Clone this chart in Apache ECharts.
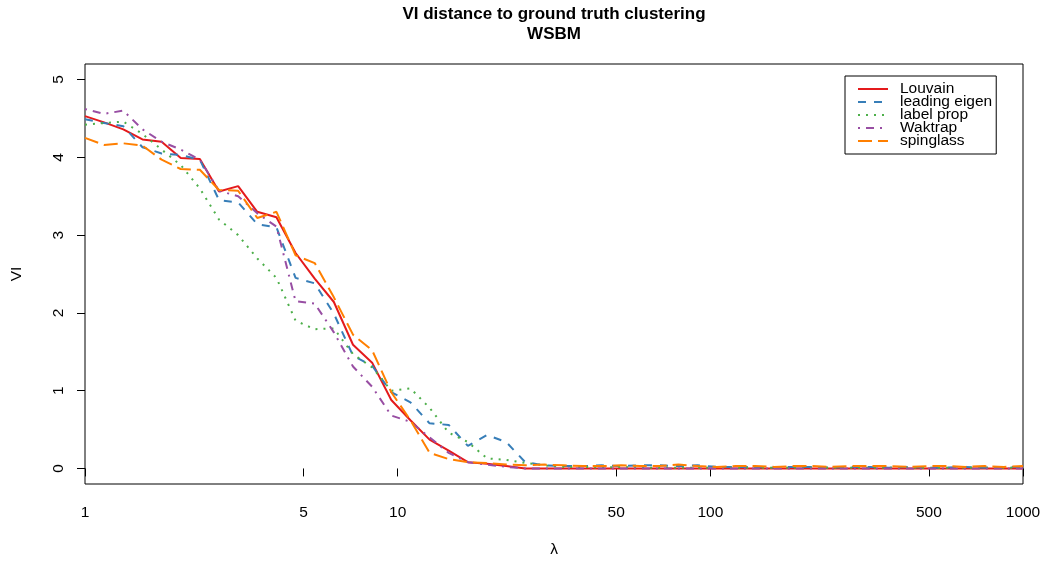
<!DOCTYPE html>
<html>
<head>
<meta charset="utf-8">
<script src="https://cdn.jsdelivr.net/npm/echarts@6/dist/echarts.min.js"></script>
<style>
  html, body { margin: 0; padding: 0; background: #fff; }
  #chart { width: 1045px; height: 564px; }
</style>
</head>
<body>
<div id="chart"></div>
<script>
  // lambda grid (log spaced, 50 points from 1 to 1000)
  var lambda = [1, 1.151, 1.326, 1.527, 1.758, 2.024, 2.330, 2.683, 3.089, 3.556,
    4.095, 4.715, 5.429, 6.251, 7.197, 8.286, 9.541, 10.985, 12.649, 14.563,
    16.768, 19.307, 22.230, 25.595, 29.471, 33.932, 39.069, 44.984, 51.795, 59.636,
    68.665, 79.060, 91.030, 104.81, 120.68, 138.95, 159.99, 184.21, 212.10, 244.21,
    281.19, 323.76, 372.76, 429.21, 494.17, 568.99, 655.14, 754.31, 868.51, 1000];

  var louvain = [4.53, 4.45, 4.36, 4.23, 4.20, 3.99, 3.98, 3.56, 3.63, 3.30,
    3.23, 2.77, 2.44, 2.14, 1.59, 1.36, 0.88, 0.62, 0.37, 0.23,
    0.08, 0.06, 0.03, 0.00, 0.00, 0.00, 0.00, 0.00, 0.00, 0.00,
    0.00, 0.00, 0.00, 0.00, 0.00, 0.00, 0.00, 0.00, 0.00, 0.00,
    0.00, 0.00, 0.00, 0.00, 0.00, 0.00, 0.00, 0.00, 0.00, 0.00];
  var leadingEigen = [4.49, 4.44, 4.40, 4.13, 4.05, 4.03, 3.97, 3.45, 3.42, 3.14,
    3.10, 2.45, 2.38, 1.99, 1.45, 1.32, 0.98, 0.85, 0.58, 0.56,
    0.29, 0.43, 0.34, 0.08, 0.04, 0.03, 0.03, 0.04, 0.03, 0.04,
    0.04, 0.03, 0.04, 0.02, 0.02, 0.02, 0.01, 0.02, 0.02, 0.01,
    0.02, 0.02, 0.01, 0.02, 0.01, 0.01, 0.02, 0.01, 0.02, 0.02];
  var labelProp = [4.42, 4.44, 4.46, 4.30, 4.10, 3.90, 3.60, 3.20, 3.00, 2.70,
    2.45, 1.90, 1.79, 1.80, 1.47, 1.30, 1.00, 1.03, 0.78, 0.46,
    0.34, 0.13, 0.11, 0.07, 0.04, 0.02, 0.02, 0.01, 0.02, 0.01,
    0.01, 0.01, 0.01, 0.01, 0.01, 0.01, 0.01, 0.01, 0.01, 0.01,
    0.01, 0.01, 0.01, 0.01, 0.01, 0.01, 0.01, 0.01, 0.01, 0.01];
  var waktrap = [4.62, 4.56, 4.60, 4.36, 4.20, 4.10, 3.97, 3.57, 3.50, 3.28,
    3.11, 2.15, 2.12, 1.75, 1.31, 1.05, 0.68, 0.60, 0.40, 0.20,
    0.08, 0.05, 0.02, 0.00, 0.00, 0.00, 0.00, 0.00, 0.00, 0.00,
    0.00, 0.00, 0.00, 0.00, 0.00, 0.00, 0.00, 0.00, 0.00, 0.00,
    0.00, 0.00, 0.00, 0.00, 0.00, 0.00, 0.00, 0.00, 0.00, 0.00];
  var spinglass = [4.25, 4.16, 4.18, 4.15, 3.97, 3.85, 3.84, 3.58, 3.57, 3.22,
    3.30, 2.74, 2.64, 2.20, 1.72, 1.52, 0.98, 0.62, 0.20, 0.12,
    0.08, 0.07, 0.05, 0.04, 0.05, 0.04, 0.03, 0.03, 0.04, 0.03,
    0.03, 0.05, 0.03, 0.02, 0.03, 0.03, 0.02, 0.03, 0.03, 0.02,
    0.03, 0.03, 0.03, 0.02, 0.03, 0.03, 0.02, 0.03, 0.02, 0.03];

  var xTicks = [1, 5, 10, 50, 100, 500, 1000];
  var yTicks = [0, 1, 2, 3, 4, 5];

  function pairs(ys) {
    return lambda.map(function (x, i) { return [x, ys[i]]; });
  }

  function line(name, ys, color, dash) {
    return {
      name: name,
      type: "line",
      data: pairs(ys),
      symbol: "none",
      smooth: false,
      lineStyle: { color: color, width: 2, type: dash },
      itemStyle: { color: color }
    };
  }

  var font = "Liberation Sans, Arial, Helvetica, sans-serif";
  var chart = echarts.init(document.getElementById("chart"));
  chart.setOption({
    animation: false,
    backgroundColor: "#fff",
    textStyle: { fontFamily: font },
    graphic: [
      {
        type: "text", x: 554, y: 14,
        style: { text: "VI distance to ground truth clustering", font: "bold 17px " + font, fill: "#000", textAlign: "center", textVerticalAlign: "middle" }
      },
      {
        type: "text", x: 554, y: 34,
        style: { text: "WSBM", font: "bold 17px " + font, fill: "#000", textAlign: "center", textVerticalAlign: "middle" }
      }
    ],
    grid: {
      left: 85, right: 22, top: 64, bottom: 80,
      show: true, borderColor: "#000", borderWidth: 1, backgroundColor: "transparent"
    },
    legend: {
      orient: "vertical",
      left: 845, top: 76,
      padding: [5, 4, 5, 12],
      borderColor: "#000", borderWidth: 1,
      itemWidth: 30, itemHeight: 13, itemGap: -3,
      itemStyle: { opacity: 0 },
      textStyle: { fontSize: 15.5, color: "#000", fontFamily: font, padding: [0, 0, 0, 7] },
      data: ["Louvain", "leading eigen", "label prop", "Waktrap", "spinglass"]
    },
    xAxis: {
      type: "log",
      logBase: 10,
      min: 1, max: 1000,
      name: "λ",
      nameLocation: "middle",
      nameGap: 58,
      nameTextStyle: { fontSize: 15.5, color: "#000" },
      axisLine: { show: false },
      splitLine: { show: false },
      axisTick: { show: true, length: 8, lineStyle: { color: "#000" }, customValues: xTicks },
      axisLabel: {
        color: "#000", fontSize: 15.5, margin: 21, customValues: xTicks,
        showMinLabel: true, showMaxLabel: true,
        formatter: function (v) { return String(v); }
      }
    },
    yAxis: {
      type: "value",
      min: -0.2, max: 5.2,
      name: "VI",
      nameLocation: "middle",
      nameGap: 60,
      nameTextStyle: { fontSize: 15.5, color: "#000" },
      axisLine: { show: false },
      splitLine: { show: false },
      axisTick: { show: true, length: 8, lineStyle: { color: "#000" }, customValues: yTicks },
      axisLabel: { color: "#000", fontSize: 15.5, margin: 18, rotate: 90, customValues: yTicks }
    },
    series: [
      line("Louvain", louvain, "#E41A1C", "solid"),
      line("leading eigen", leadingEigen, "#377EB8", [8, 8]),
      line("label prop", labelProp, "#4DAF4A", [2, 6]),
      line("Waktrap", waktrap, "#984EA3", [2, 6, 8, 6]),
      line("spinglass", spinglass, "#FF7F00", [14, 6])
    ]
  });
</script>
</body>
</html>
